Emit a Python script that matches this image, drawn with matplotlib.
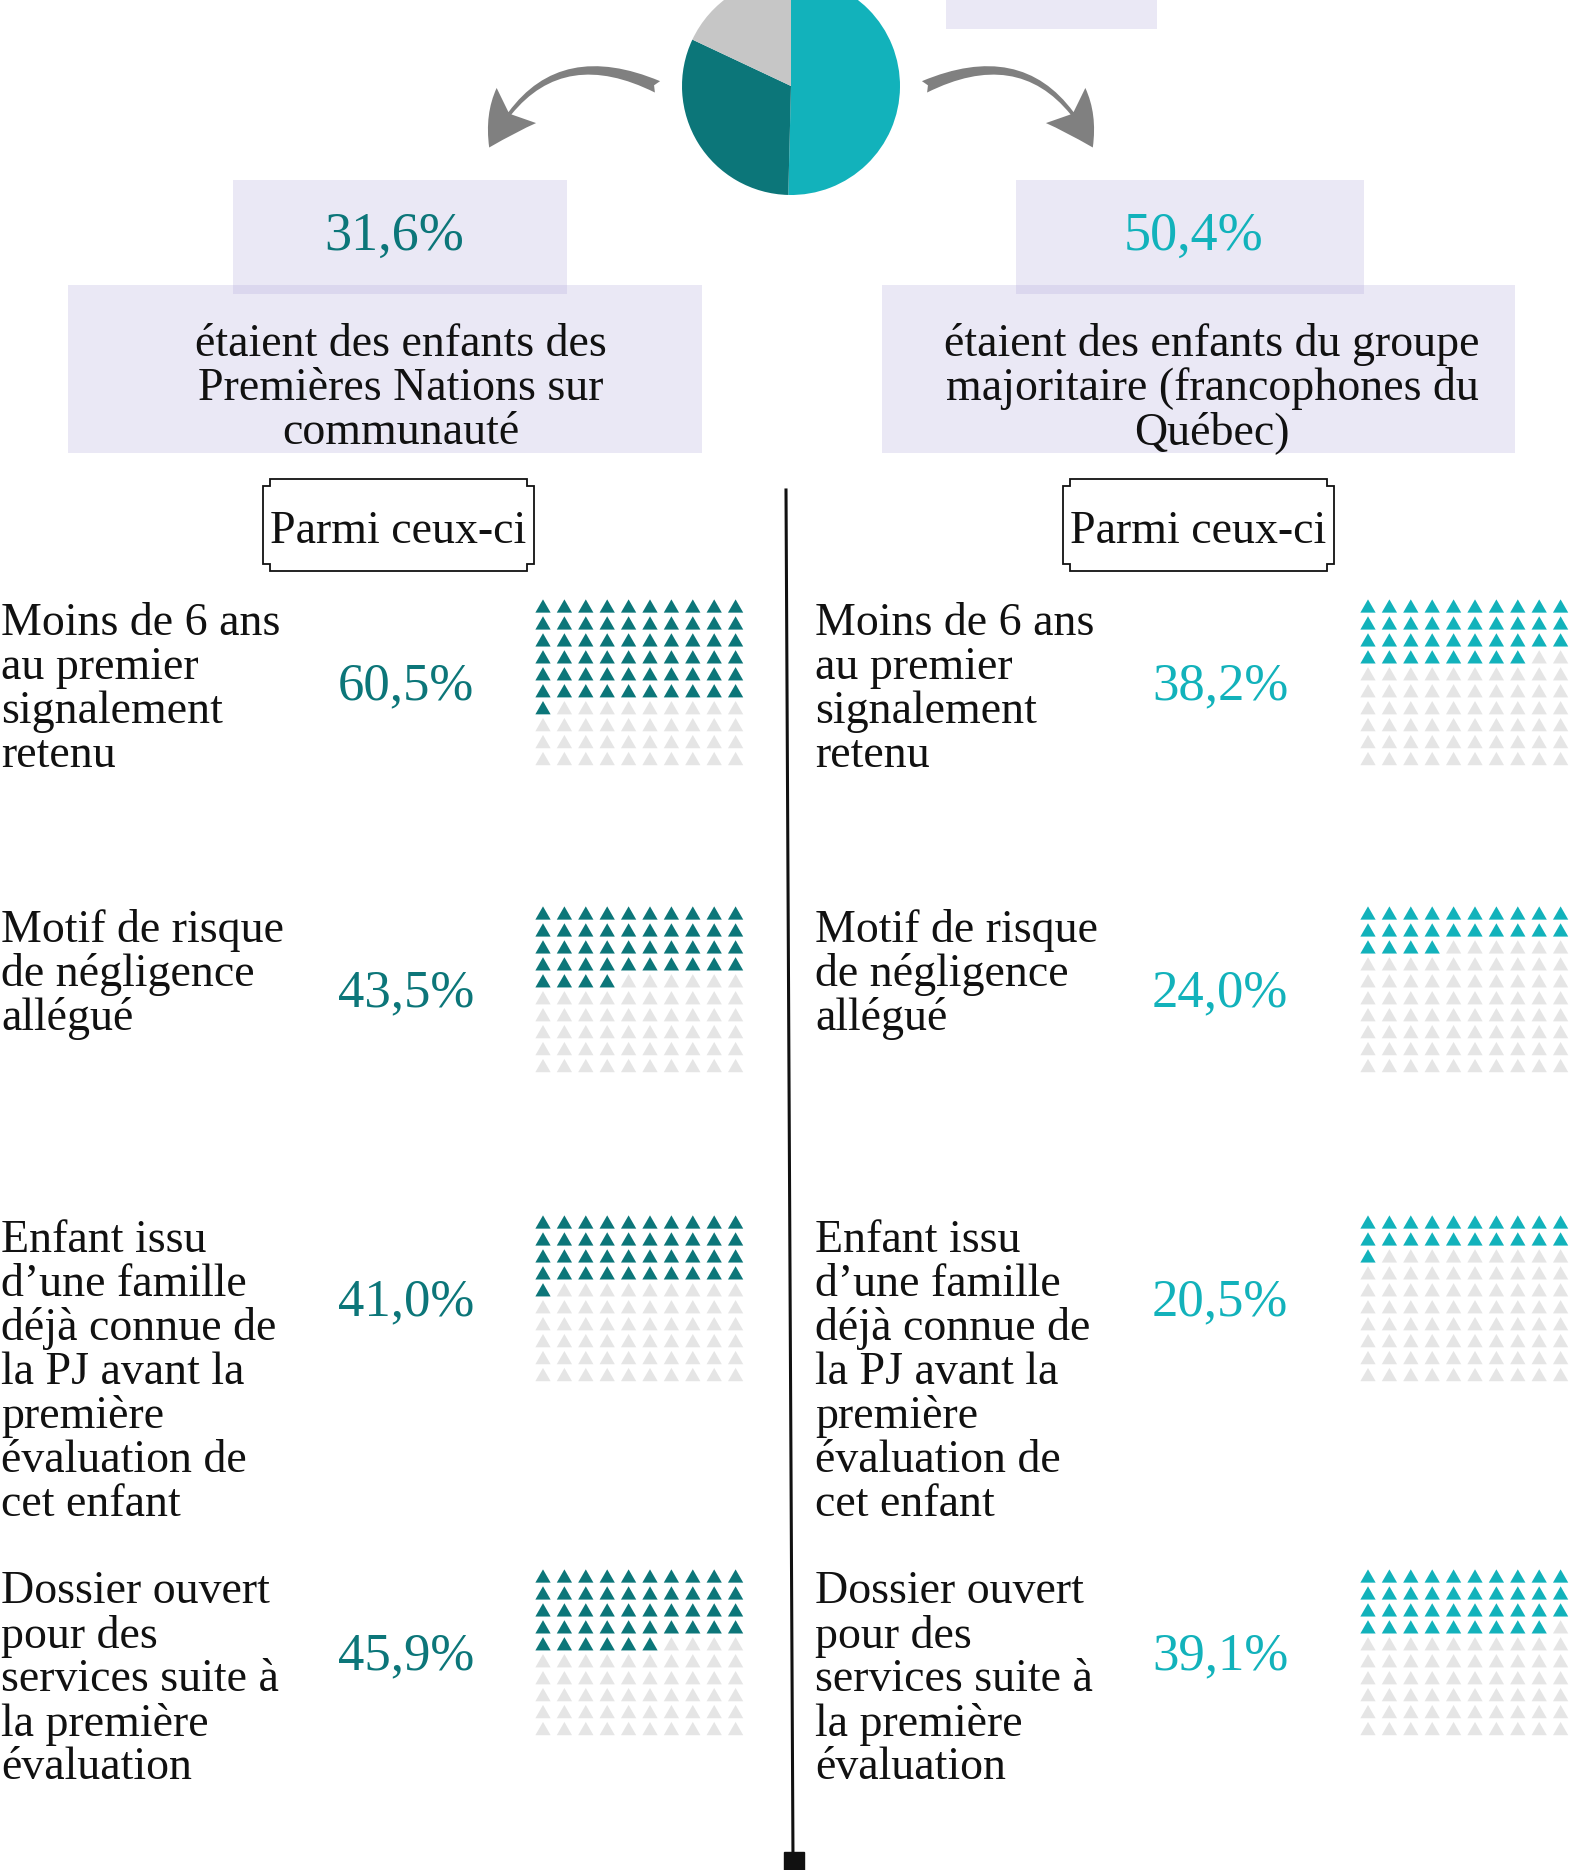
import matplotlib.pyplot as plt
from matplotlib.patches import Rectangle, Polygon, FancyArrowPatch

# ---- data ----
pie_labels = ["Groupe majoritaire", "Premières Nations", "Autres"]
pie_shares = [50.4, 31.6, 18.0]

header_pn = "étaient des enfants des\nPremières Nations sur\ncommunauté"
header_maj = "étaient des enfants du groupe\nmajoritaire (francophones du\nQuébec)"
among = "Parmi ceux-ci"

labels_pn = [
    "Moins de 6 ans\nau premier\nsignalement\nretenu",
    "Motif de risque\nde négligence\nallégué",
    "Enfant issu\nd’une famille\ndéjà connue de\nla PJ avant la\npremière\névaluation de\ncet enfant",
    "Dossier ouvert\npour des\nservices suite à\nla première\névaluation",
]
labels_maj = labels_pn
values_pn = [60.5, 43.5, 41.0, 45.9]
values_maj = [38.2, 24.0, 20.5, 39.1]

# ---- style ----
TEAL = "#0c7679"
CYAN = "#12b2bb"
GREY = "#c6c6c6"
EMPTY = "#e5e5e5"
LAV = (175 / 255, 167 / 255, 219 / 255, 0.25)
INK = "#111111"
FONT = "Liberation Serif"
DY = 4  # nudge text down a little

W, H = 1570, 1870
fig = plt.figure(figsize=(W / 100, H / 100), dpi=100)
ax = fig.add_axes([0, 0, 1, 1])
ax.set_xlim(0, W)
ax.set_ylim(H, 0)
ax.axis("off")


def pct(v):
    return f"{v:.1f}".replace(".", ",") + "%"


# pie (own axes so the orientation is normal)
cx, cy, r = 791, 86, 109
pax = fig.add_axes([(cx - r) / W, (H - cy - r) / H, 2 * r / W, 2 * r / H])
pax.pie(pie_shares, colors=[CYAN, TEAL, GREY], startangle=90,
        counterclock=False, radius=1, wedgeprops=dict(linewidth=0))
pax.set_xlim(-1, 1)
pax.set_ylim(-1, 1)
pax.set_aspect("equal")
pax.axis("off")

# curved arrows
for tail, tip, rad in [((660, 88), (488, 150), 0.5), ((922, 88), (1094, 150), -0.5)]:
    arr = FancyArrowPatch(tail, tip, connectionstyle=f"arc3,rad={rad}",
                          arrowstyle="fancy,head_length=3.6,head_width=3.8,tail_width=0.9",
                          mutation_scale=10, color="#808080", lw=0)
    ax.add_patch(arr)

# lavender boxes
ax.add_patch(Rectangle((946, 0), 211, 29, color=LAV, lw=0))
for x0, w0, x1, w1 in [(233, 334, 68, 634), (1016, 348, 882, 633)]:
    ax.add_patch(Rectangle((x0, 180), w0, 114, color=LAV, lw=0))
    ax.add_patch(Rectangle((x1, 285), w1, 168, color=LAV, lw=0))

ax.text(394, 233 + DY, pct(pie_shares[1]), color=TEAL, fontsize=39, family=FONT,
        ha="center", va="center")
ax.text(1194, 233 + DY, pct(pie_shares[0]), color=CYAN, fontsize=39, family=FONT,
        ha="center", va="center")

for cxh, txt in [(401, header_pn), (1212, header_maj)]:
    for i, line in enumerate(txt.split("\n")):
        ax.text(cxh, 341 + DY + i * 44, line, color=INK, fontsize=33, family=FONT,
                ha="center", va="center")

# "Parmi ceux-ci" boxes with notched corners
n = 7
for L, R in [(263, 534), (1063, 1334)]:
    T, B = 479, 571
    pts = [(L, T + n), (L + n, T + n), (L + n, T), (R - n, T), (R - n, T + n),
           (R, T + n), (R, B - n), (R - n, B - n), (R - n, B), (L + n, B),
           (L + n, B - n), (L, B - n)]
    ax.add_patch(Polygon(pts, closed=True, fill=False, ec="#111111", lw=1.3))
    ax.text((L + R) / 2, 528 + DY, among, color=INK, fontsize=33, family=FONT,
            ha="center", va="center")

# divider
ax.plot([786, 793], [490, 1860], color="#111111", lw=2.2)
ax.plot([794], [1862], marker="s", ms=14, color="#111111")

# rows
label_y = [620, 927, 1237, 1588]
grid_y = [606, 913, 1222, 1576]
tri = [(-1, -0.87), (1, -0.87), (0, 0.87)]
dx, dy = 21.4, 16.95

for side, (labels, values, col, lx, px, gx) in enumerate([
        (labels_pn, values_pn, TEAL, 1, 406, 543),
        (labels_maj, values_maj, CYAN, 815, 1220, 1368)]):
    for k in range(4):
        for i, line in enumerate(labels[k].split("\n")):
            ax.text(lx, label_y[k] + DY + i * 44, line, color=INK, fontsize=33,
                    family=FONT, ha="left", va="center")
        ax.text(px, grid_y[k] + 4.5 * dy + DY, pct(values[k]), color=col,
                fontsize=38, family=FONT, ha="center", va="center")
        filled = int(values[k] + 0.5)
        xs, ys, cs = [], [], []
        for j in range(100):
            xs.append(gx + (j % 10) * dx)
            ys.append(grid_y[k] + (j // 10) * dy)
            cs.append(col if j < filled else EMPTY)
        ax.scatter(xs, ys, s=11 ** 2, marker=tri, c=cs, linewidths=0)

fig.savefig("out.png", dpi=100)
